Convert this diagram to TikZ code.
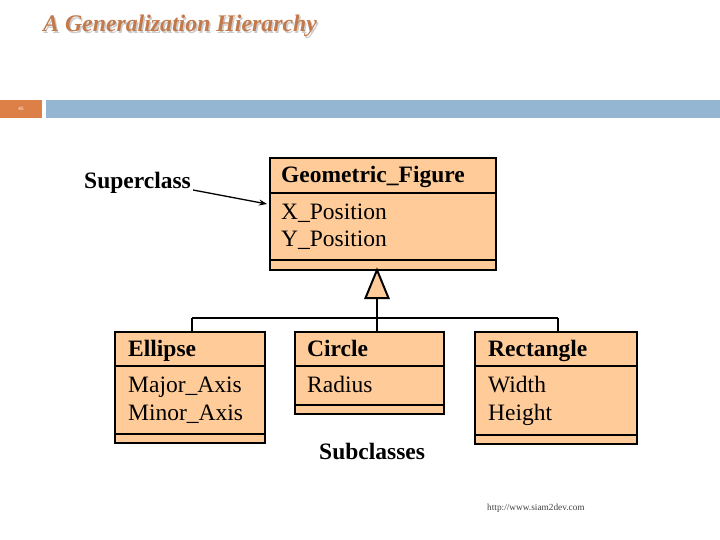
\documentclass[tikz,border=0pt]{standalone}
\usepackage{fontspec}
\setmainfont{Liberation Serif}
\usetikzlibrary{arrows.meta}
\definecolor{peach}{HTML}{FFCC99}
\definecolor{titlecol}{HTML}{C27A4C}
\definecolor{barblue}{HTML}{94B6D2}
\definecolor{barorange}{HTML}{DD8047}
\begin{document}
\begin{tikzpicture}[x=1pt,y=-1pt,
  classbox/.style={draw=black, fill=peach, line width=2pt, anchor=north west, inner sep=0pt},
  rule/.style={line width=2pt},
  conn/.style={line width=2pt},
  lbl/.style={anchor=base west, inner sep=0pt, font=\fontsize{23.5}{28}\selectfont},
  blbl/.style={lbl, font=\fontsize{23.5}{28}\selectfont\bfseries}]
\useasboundingbox (0,0) rectangle (720,540);
% title
\node[anchor=base west, inner sep=0pt, text=black!20, font=\fontsize{23.8}{28}\selectfont\bfseries\itshape] (titleshadow) at (44.5,33.5) {A Generalization Hierarchy};
\node[anchor=base west, inner sep=0pt, text=titlecol, font=\fontsize{23.8}{28}\selectfont\bfseries\itshape] (title) at (43,32) {A Generalization Hierarchy};
% bars
\fill[barorange] (0,100) rectangle (42,118);
\fill[barblue] (46,100) rectangle (720,118);
\node[text=white, font=\fontsize{5}{6}\sffamily] (pnum) at (21,109) {45};
% superclass
\node[classbox, minimum width=226pt, minimum height=112pt] (gf) at (269,157) {};
\draw[rule] ([yshift=-36pt]gf.north west) -- ([yshift=-36pt]gf.north east);
\draw[rule] ([yshift=11pt]gf.south west) -- ([yshift=11pt]gf.south east);
\node[blbl] (gfn) at (281,183) {Geometric\_Figure};
\node[lbl] (gfa1) at (281,219) {X\_Position};
\node[lbl] (gfa2) at (281,247) {Y\_Position};
% subclasses
\node[classbox, minimum width=150pt, minimum height=111pt] (ell) at (114,331) {};
\draw[rule] ([yshift=-35pt]ell.north west) -- ([yshift=-35pt]ell.north east);
\draw[rule] ([yshift=10pt]ell.south west) -- ([yshift=10pt]ell.south east);
\node[blbl] (elln) at (128,356) {Ellipse};
\node[lbl] (ella1) at (128,392) {Major\_Axis};
\node[lbl] (ella2) at (128,420) {Minor\_Axis};
\node[classbox, minimum width=149pt, minimum height=82pt] (cir) at (294,331) {};
\draw[rule] ([yshift=-35pt]cir.north west) -- ([yshift=-35pt]cir.north east);
\draw[rule] ([yshift=10pt]cir.south west) -- ([yshift=10pt]cir.south east);
\node[blbl] (cirn) at (307,356) {Circle};
\node[lbl] (cira1) at (307,392) {Radius};
\node[classbox, minimum width=162pt, minimum height=112pt] (rec) at (474,331) {};
\draw[rule] ([yshift=-35pt]rec.north west) -- ([yshift=-35pt]rec.north east);
\draw[rule] ([yshift=10pt]rec.south west) -- ([yshift=10pt]rec.south east);
\node[blbl] (recn) at (488,356) {Rectangle};
\node[lbl] (reca1) at (488,392) {Width};
\node[lbl] (reca2) at (488,420) {Height};
% generalization
\coordinate (apex) at (377,270);
\coordinate (tbase) at (377,298);
\coordinate (b1) at (192,318);
\coordinate (b2) at (377,318);
\coordinate (b3) at (558,318);
\draw[conn] (tbase) -- (b2);
\draw[conn] (b1) -- (b3);
\draw[conn] (b1) -- (b1 |- ell.north);
\draw[conn] (b2) -- (b2 |- cir.north);
\draw[conn] (b3) -- (b3 |- rec.north);
\draw[conn, fill=peach, line join=miter] (apex) -- ([xshift=-11.5pt]tbase) -- ([xshift=11.5pt]tbase) -- cycle;
% labels
\node[blbl] (sup) at (84,189) {Superclass};
\coordinate (suptip) at (267,204);
\draw[line width=1.3pt, -{Stealth[length=8pt,width=6pt]}] ([xshift=2pt,yshift=-1pt]sup.base east) -- (suptip);
\node[blbl] (sub) at (319,459) {Subclasses};
\node[anchor=base west, inner sep=0pt, font=\fontsize{9.3}{10}\selectfont, text=black!75] (url) at (487,510) {http://www.siam2dev.com};
\end{tikzpicture}
\end{document}
